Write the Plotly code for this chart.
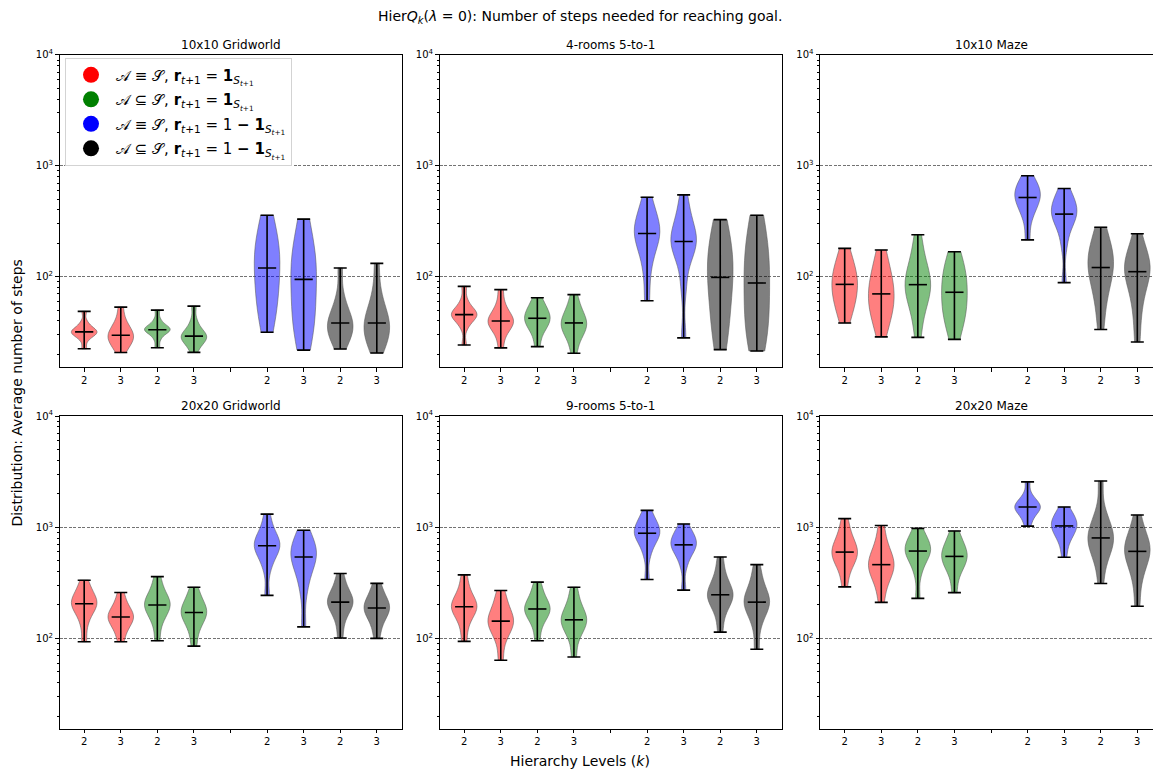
import numpy as np
import plotly.graph_objects as go

# ---------------- data (average number of steps, per run) ----------------
panel_titles = ["10x10 Gridworld", "4-rooms 5-to-1", "10x10 Maze",
                "20x20 Gridworld", "9-rooms 5-to-1", "20x20 Maze"]
positions = [1, 2, 3, 4, 6, 7, 8, 9]
tick_positions = [1, 2, 3, 4, 5, 6, 7, 8, 9]
tick_labels = ["2", "3", "2", "3", "", "2", "3", "2", "3"]
legend_labels = [
    "𝒜 ≡ 𝒮, <b>r</b><sub><i>t</i>+1</sub> = <b>1</b><sub><i>S</i><sub><i>t</i>+1</sub></sub>",
    "𝒜 ⊆ 𝒮, <b>r</b><sub><i>t</i>+1</sub> = <b>1</b><sub><i>S</i><sub><i>t</i>+1</sub></sub>",
    "𝒜 ≡ 𝒮, <b>r</b><sub><i>t</i>+1</sub> = 1 <b>−</b> <b>1</b><sub><i>S</i><sub><i>t</i>+1</sub></sub>",
    "𝒜 ⊆ 𝒮, <b>r</b><sub><i>t</i>+1</sub> = 1 <b>−</b> <b>1</b><sub><i>S</i><sub><i>t</i>+1</sub></sub>",
]

# order of violins: red k2, red k3, green k2, green k3, blue k2, blue k3, black k2, black k3
gridworld10 = [
    [22.4, 27, 29.5, 30.5, 31.2, 31.8, 32.5, 33.5, 35.5, 39, 48.7],
    [20.7, 23.5, 25.5, 27, 28.3, 29.7, 31, 33, 36, 41, 53.2],
    [22.9, 27.5, 30.5, 32.5, 33, 33.2, 34, 35, 37, 41, 50],
    [20.8, 24, 26, 27.3, 28.3, 29.1, 30, 31.5, 34.5, 40, 54.3],
    [31.6, 45, 58, 70, 90, 120, 140, 165, 200, 250, 358],
    [21.8, 32, 40, 48, 62, 94.6, 110, 130, 160, 210, 331],
    [22.3, 27, 30, 32, 35, 38.3, 41, 45, 52, 68, 120],
    [20.5, 25, 28, 31, 34, 38.3, 42, 46, 55, 75, 132],
]
rooms4 = [
    [24.2, 35, 40, 43, 44.5, 45.5, 47, 49, 53, 61, 81.9],
    [22.8, 30, 34, 37, 38.5, 39.9, 41.5, 44, 49, 57, 76.5],
    [23.4, 31, 35, 38, 40, 42.2, 44, 47, 51, 56, 64.6],
    [20.4, 27, 31, 33.5, 35.5, 38.3, 40, 43, 48, 55, 69],
    [60.7, 110, 160, 195, 225, 245, 265, 290, 330, 400, 521],
    [28.1, 80, 140, 175, 195, 208, 225, 250, 300, 390, 547],
    [22, 30, 42, 58, 78, 98.6, 120, 145, 180, 230, 327],
    [21.4, 28, 36, 46, 62, 87.8, 110, 140, 180, 250, 358],
]
maze10 = [
    [38.3, 50, 58, 65, 75, 85.3, 94, 104, 118, 140, 180],
    [28.7, 40, 47, 53, 60, 70, 78, 90, 105, 128, 174],
    [28.4, 45, 58, 68, 77, 84.8, 93, 105, 125, 160, 239],
    [27.2, 38, 45, 50, 58, 72.4, 82, 95, 110, 130, 168],
    [215, 330, 400, 450, 490, 518, 560, 600, 640, 700, 815],
    [88.4, 190, 270, 320, 350, 367, 395, 430, 470, 530, 624],
    [33.4, 55, 75, 95, 110, 121, 140, 155, 175, 210, 279],
    [25.8, 45, 65, 85, 100, 111, 122, 133, 145, 170, 244],
]
gridworld20 = [
    [93.4, 135, 165, 185, 198, 205, 214, 228, 248, 280, 334],
    [93.4, 115, 130, 142, 150, 156, 163, 172, 187, 212, 259],
    [95.3, 135, 160, 178, 192, 200, 210, 224, 245, 285, 360],
    [85.3, 115, 137, 152, 163, 171, 180, 192, 210, 240, 289],
    [244, 420, 530, 600, 650, 681, 720, 770, 850, 990, 1313],
    [127, 260, 360, 440, 500, 540, 580, 630, 690, 780, 940],
    [101, 140, 170, 190, 203, 212, 222, 238, 262, 305, 384],
    [100, 130, 152, 168, 180, 188, 197, 210, 230, 262, 313],
]
rooms9 = [
    [94, 130, 158, 175, 186, 193, 202, 218, 242, 285, 373],
    [63.7, 95, 115, 127, 136, 143, 152, 165, 185, 220, 270],
    [95.3, 130, 152, 167, 177, 184, 192, 206, 228, 262, 321],
    [68, 100, 118, 131, 140, 147, 155, 168, 188, 225, 289],
    [339, 560, 700, 790, 850, 884, 930, 990, 1070, 1200, 1419],
    [272, 450, 560, 625, 668, 695, 730, 780, 840, 920, 1071],
    [114, 165, 200, 222, 237, 247, 262, 285, 325, 395, 540],
    [80, 130, 165, 188, 202, 212, 226, 248, 282, 345, 461],
]
maze20 = [
    [291, 410, 480, 530, 570, 598, 635, 690, 780, 920, 1197],
    [211, 300, 360, 400, 435, 461, 495, 545, 615, 740, 1038],
    [229, 380, 480, 540, 585, 611, 645, 690, 750, 835, 977],
    [258, 370, 435, 480, 520, 547, 580, 625, 685, 775, 927],
    [1024, 1200, 1330, 1420, 1480, 1520, 1570, 1640, 1750, 1950, 2560],
    [537, 720, 830, 910, 980, 1028, 1075, 1140, 1220, 1330, 1520],
    [312, 480, 590, 670, 740, 802, 870, 960, 1100, 1400, 2612],
    [195, 320, 420, 500, 560, 607, 655, 710, 790, 940, 1288],
]
panels = [gridworld10, rooms4, maze10, gridworld20, rooms9, maze20]

# ---------------- style ----------------
base_colors = ["rgb(255,0,0)", "rgb(0,128,0)", "rgb(0,0,255)", "rgb(0,0,0)"]
fill_colors = ["rgba(255,0,0,0.5)", "rgba(0,128,0,0.5)", "rgba(0,0,255,0.5)", "rgba(0,0,0,0.5)"]
edge_colors = ["rgba(90,90,90,0.55)"] * 4
FONT = "DejaVu Sans"
W, H = 1161, 775
OX, OY = 8, 8   # page (body) margin offset


def px(x):
    return (x - OX) / W


def py(y):
    return 1 - (y - OY) / H


x_domains = [[px(59.5), px(401.5)], [px(439.5), px(781.5)], [px(820), px(1162)]]
y_domains = [[py(363.3), py(48.3)], [py(728.5), py(412.8)]]

fig = go.Figure()

for i, data in enumerate(panels):
    ax = "" if i == 0 else str(i + 1)
    xref, yref = "x" + ax, "y" + ax
    meds, lo, hi = [], [], []
    for j, vals in enumerate(data):
        lv = np.log10(np.array(vals, dtype=float))
        c = j // 2
        fig.add_trace(go.Violin(
            x=[positions[j]] * len(lv), y=lv, xaxis=xref, yaxis=yref,
            orientation="v", width=0.7, scalemode="width", spanmode="hard",
            points=False, fillcolor=fill_colors[c],
            line=dict(color=edge_colors[c], width=1),
            box_visible=False, meanline_visible=False,
            showlegend=False, hoverinfo="skip"))
        m = np.median(lv)
        meds.append(m)
        lo.append(m - lv.min())
        hi.append(lv.max() - m)
    fig.add_trace(go.Scatter(
        x=positions, y=meds, xaxis=xref, yaxis=yref, mode="markers",
        marker=dict(symbol="line-ew", size=13, color="black",
                    line=dict(color="black", width=1.6)),
        error_y=dict(type="data", symmetric=False, array=hi, arrayminus=lo,
                     color="black", thickness=1.6, width=6.5),
        showlegend=False, hoverinfo="skip"))

# legend entries
for c in range(4):
    fig.add_trace(go.Scatter(
        x=[None], y=[None], xaxis="x", yaxis="y", mode="markers",
        marker=dict(color=base_colors[c], size=18, symbol="circle"),
        name=legend_labels[c], legendgroup=str(c)))

minor_vals = [np.log10(d * 10 ** k) for k in range(1, 4) for d in range(2, 10)]
minor_vals = [v for v in minor_vals if v > 1.18]

layout = dict(
    width=W, height=H, margin=dict(l=0, r=0, t=0, b=0),
    paper_bgcolor="white", plot_bgcolor="white",
    font=dict(family=FONT, size=10, color="black"),
    violinmode="overlay",
    legend=dict(x=px(65), y=py(51), xanchor="left", yanchor="top",
                bgcolor="rgba(255,255,255,0.8)", bordercolor="#d3d3d3",
                borderwidth=1, font=dict(family=FONT, size=15),
                tracegroupgap=2, itemsizing="trace", itemwidth=40),
    annotations=[],
)

for i in range(6):
    r, c = divmod(i, 3)
    ax = "" if i == 0 else str(i + 1)
    layout["xaxis" + ax] = dict(
        domain=x_domains[c], anchor="y" + ax, range=[0.325, 9.675],
        tickmode="array", tickvals=tick_positions, ticktext=tick_labels,
        ticks="outside", ticklen=3.5, tickwidth=0.8, tickcolor="black",
        showline=True, linecolor="black", linewidth=1, mirror=True,
        showgrid=False, zeroline=False, tickfont=dict(size=10))
    layout["yaxis" + ax] = dict(
        domain=y_domains[r], anchor="x" + ax, range=[1.185, 4.0],
        tickmode="array", tickvals=[2, 3, 4],
        ticktext=["10<sup>2</sup>", "10<sup>3</sup>", "10<sup>4</sup>"],
        ticks="outside", ticklen=3.5, tickwidth=0.8, tickcolor="black",
        showline=True, linecolor="black", linewidth=1, mirror=True,
        showgrid=True, gridcolor="rgba(80,80,80,0.8)", griddash="3px,1.5px",
        gridwidth=0.8, zeroline=False, tickfont=dict(size=10),
        minor=dict(tickmode="array", tickvals=minor_vals, ticks="outside",
                   ticklen=2, tickwidth=0.6, tickcolor="black", showgrid=False))
    dom = x_domains[c]
    layout["annotations"].append(dict(
        text=panel_titles[i], xref="paper", yref="paper",
        x=(dom[0] + dom[1]) / 2, y=y_domains[r][1] + 10 / H,
        xanchor="center", yanchor="middle", showarrow=False,
        font=dict(family=FONT, size=12)))

layout["annotations"] += [
    dict(text="Hier<i>Q</i><sub><i>k</i></sub>(<i>λ</i> = 0): Number of steps needed for reaching goal.",
         xref="paper", yref="paper", x=px(580), y=py(10),
         xanchor="center", yanchor="middle", showarrow=False,
         font=dict(family=FONT, size=14)),
    dict(text="Distribution: Average number of steps", xref="paper", yref="paper",
         x=px(17), y=py(390), xanchor="center", yanchor="middle",
         textangle=-90, showarrow=False, font=dict(family=FONT, size=14)),
    dict(text="Hierarchy Levels (<i>k</i>)", xref="paper", yref="paper",
         x=px(580), y=py(761), xanchor="center", yanchor="middle",
         showarrow=False, font=dict(family=FONT, size=14)),
]

fig.update_layout(**layout)
fig.write_html("out.html")
